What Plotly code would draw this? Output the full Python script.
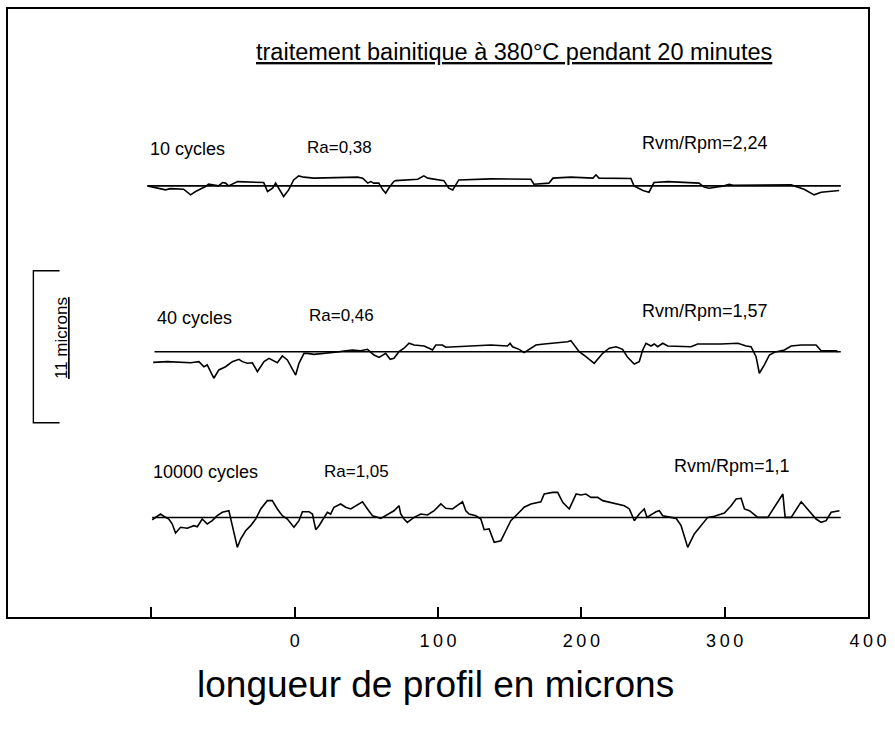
import plotly.graph_objects as go

# Roughness profiles (position along profile in microns, height in microns)
x_10 = [-102.7, -93.6, -90.1, -86.6, -77.5, -72.6, -69.1, -62.2, -60.1, -53.1,
        -50.3, -48.2, -46.1, -39.8, -21.6, -18.9, -15.4, -13.3, -11.2, -7.7,
        -4.2, -0.7, 2.8, 6.3, 13.3, 44.0, 47.5, 51.0, 53.1, 55.2,
        58.7, 61.5, 63.5, 65.6, 69.1, 70.5, 85.9, 90.1, 92.9, 104.1,
        107.5, 110.3, 112.4, 114.5, 136.9, 164.8, 166.9, 177.4, 180.2, 192.7,
        208.1, 210.2, 212.3, 234.6, 236.7, 243.0, 247.2, 250.7, 260.5, 282.1,
        285.6, 289.1, 299.6, 303.1, 305.9, 313.5, 346.4, 355.4, 362.4, 367.3,
        379.9]
h_10 = [0, -0.24, -0.29, -0.20, -0.24, -0.65, -0.41, -0.05, 0.12, 0,
        0.24, 0.20, 0, 0.31, 0.24, -0.41, -0.17, 0.20, -0.17, -0.77,
        -0.29, 0.43, 0.72, 0.63, 0.56, 0.63, 0.56, 0.20, 0.31, 0.20,
        0.20, -0.29, -0.53, -0.17, 0.31, 0.38, 0.48, 0.72, 0.56, 0.38,
        -0.17, -0.29, 0.07, 0.43, 0.51, 0.48, 0.12, 0.20, 0.56, 0.63,
        0.56, 0.80, 0.56, 0.53, 0, -0.34, -0.46, 0.24, 0.31, 0.20,
        -0.09, -0.17, 0, 0.12, 0.05, 0.05, 0.07, -0.24, -0.65, -0.46,
        -0.34]

x_40 = [-98.7, -88.9, -72.6, -66.8, -63.3, -61.0, -56.4, -52.9, -48.2, -43.5,
        -38.9, -36.5, -33.0, -29.5, -26.0, -21.4, -17.9, -15.6, -12.1, -8.6,
        -5.1, 0.7, 3.0, 6.5, 8.9, 13.5, 22.8, 29.8, 34.4, 40.2,
        46.1, 50.8, 55.4, 58.9, 63.5, 66.6, 69.3, 72.8, 76.3, 79.8,
        83.3, 90.3, 93.8, 96.2, 98.5, 103.1, 105.4, 115.9, 136.9, 148.5,
        150.3, 152.0, 156.6, 160.1, 163.6, 168.3, 174.1, 190.4, 192.7, 196.2,
        198.5, 203.2, 209.0, 214.9, 219.5, 224.2, 228.8, 232.3, 236.9, 240.4,
        242.8, 245.1, 248.6, 250.9, 253.3, 256.8, 260.3, 276.5, 281.2, 297.5,
        309.2, 315.0, 318.4, 321.9, 324.2, 327.7, 331.2, 334.7, 341.7, 346.4,
        353.4, 363.8, 367.3, 369.6, 377.8, 379.0]
h_40 = [-0.77, -0.72, -0.80, -0.72, -1.09, -0.96, -1.92, -1.32, -1.09, -0.72,
        -0.55, -0.72, -0.84, -0.80, -1.45, -0.72, -0.48, -0.60, -0.80, -0.31,
        -0.60, -1.69, -0.84, -0.12, -0.12, -0.19, -0.12, -0.02, 0.05, 0.12,
        0.07, 0.17, -0.24, -0.41, -0.12, -0.55, -0.48, 0, 0.25, 0.61,
        0.48, 0.41, 0.25, 0.12, 0.48, 0.48, 0.32, 0.36, 0.48, 0.41,
        0.61, 0.36, 0.17, -0.07, 0.17, 0.48, 0.56, 0.72, 0.80, 0.36,
        0, -0.36, -0.84, -0.12, 0.25, 0.36, 0.17, -0.41, -0.89, -0.72,
        0.12, 0.61, 0.41, 0.56, 0.36, 0.61, 0.41, 0.36, 0.56, 0.56,
        0.61, 0.41, 0.36, -0.36, -1.56, -0.96, -0.24, -0.04, 0.12, 0.41,
        0.48, 0.48, 0.07, 0.07, 0.07, 0]

x_10000 = [-99.4, -97.1, -93.6, -91.3, -87.8, -85.4, -83.1, -79.6, -74.9, -70.3,
           -67.9, -64.5, -61.0, -57.5, -54.0, -50.5, -45.9, -43.5, -40.0, -37.7,
           -34.2, -30.7, -27.2, -23.7, -19.1, -15.6, -12.1, -8.6, -5.1, -0.5,
           3.0, 5.4, 10.0, 12.4, 14.7, 17.0, 20.5, 22.8, 25.1, 27.4,
           32.1, 35.6, 39.1, 42.6, 47.3, 50.8, 54.3, 60.1, 64.8, 69.3,
           72.8, 74.0, 76.3, 78.6, 83.3, 88.0, 92.7, 97.3, 102.0, 105.4,
           110.1, 113.6, 117.1, 119.4, 121.7, 126.4, 129.9, 132.2, 135.7, 139.2,
           143.9, 147.3, 150.8, 155.5, 160.1, 164.8, 171.8, 174.1, 180.0, 183.5,
           187.0, 191.6, 194.0, 196.4, 199.7, 203.2, 206.7, 211.4, 214.9, 230.0,
           233.5, 237.0, 240.4, 243.9, 245.8, 248.6, 252.1, 254.4, 256.8, 262.6,
           266.1, 269.6, 274.2, 278.8, 284.7, 288.2, 292.8, 299.8, 304.5, 308.0,
           311.5, 313.8, 317.3, 323.1, 330.1, 340.6, 342.2, 346.4, 353.4, 358.0,
           363.8, 367.3, 370.8, 374.3, 380.1]
h_10000 = [-0.16, 0.01, 0.25, 0.09, -0.11, -0.47, -1.12, -0.71, -0.78, -0.59,
           -0.67, -0.11, -0.47, -0.23, 0.13, 0.38, 0.49, -0.59, -2.16, -1.56,
           -0.96, -0.59, -0.11, 0.62, 1.22, 1.22, 0.62, 0.13, -0.11, -0.71,
           -0.23, 0.42, 0.42, 0.25, -0.88, -0.59, 0.01, 0.38, 0.25, 0.74,
           0.98, 0.74, 0.62, 0.85, 1.14, 0.62, 0.13, -0.06, 0.25, 0.49,
           0.85, 0.25, -0.11, -0.35, 0.01, 0.25, 0.18, 0.49, 0.98, 0.67,
           0.62, 0.85, 1.14, 0.49, 0.25, 0.13, -0.11, -0.88, -0.83, -1.79,
           -1.68, -0.96, -0.23, 0.25, 0.74, 0.98, 1.14, 1.70, 1.82, 1.82,
           1.10, 0.62, 1.22, 1.70, 1.63, 1.70, 1.46, 1.46, 1.22, 0.85,
           0.62, -0.23, 0.25, 0.62, 0.01, 0.18, 0.42, 0.49, 0.13, 0.01,
           -0.06, -0.59, -2.16, -1.19, -0.47, 0.01, 0.09, 0.33, 0.85, 1.34,
           1.39, 0.62, 0.49, 0.01, 0.01, 1.70, 0.01, 0.01, 1.14, 0.62,
           -0.11, -0.35, -0.23, 0.38, 0.49]

cycle_labels = ["10 cycles", "40 cycles", "10000 cycles"]
ra_labels = ["Ra=0,38", "Ra=0,46", "Ra=1,05"]
ratio_labels = ["Rvm/Rpm=2,24", "Rvm/Rpm=1,57", "Rvm/Rpm=1,1"]

tick_values = [-100, 0, 100, 200, 300, 400]
tick_labels = ["", "0", "1\u20090\u20090", "2\u20090\u20090", "3\u20090\u20090", "4\u20090\u20090"]

scale_length = 11  # microns

# ---- layout constants ----
FONT = "Liberation Sans, Arial, Helvetica, sans-serif"
offsets = [24, 12, 0]                      # vertical stacking of the profiles
baseline_starts = [-102.7, -97.8, -99.4]
baseline_end = 381
profiles = [(x_10, h_10), (x_40, h_40), (x_10000, h_10000)]

fig = go.Figure()

for (xs, hs), off, x0 in zip(profiles, offsets, baseline_starts):
    fig.add_trace(go.Scatter(x=[x0, baseline_end], y=[off, off], mode="lines",
                             line=dict(color="black", width=1.6),
                             hoverinfo="skip", showlegend=False))
    fig.add_trace(go.Scatter(x=xs, y=[h + off for h in hs], mode="lines",
                             line=dict(color="black", width=1.6),
                             showlegend=False))

# vertical scale bar
bar_x_in, bar_x_out, bar_y0 = -164, -182.3, 6.86
fig.add_trace(go.Scatter(
    x=[bar_x_in, bar_x_out, bar_x_out, bar_x_in],
    y=[bar_y0 + scale_length, bar_y0 + scale_length, bar_y0, bar_y0],
    mode="lines", line=dict(color="black", width=1.4),
    hoverinfo="skip", showlegend=False))

annotations = []


def px_ann(text, px, py, size, xanchor="left", angle=0):
    annotations.append(dict(
        text=text, xref="paper", yref="paper",
        x=(px - 8) / 860, y=(617 - py) / 608,
        xanchor=xanchor, yanchor="middle", showarrow=False, textangle=angle,
        font=dict(family=FONT, size=size, color="black")))


px_ann("<u>traitement bainitique à 380°C pendant 20 minutes</u>", 514, 52, 23.5, "center")

label_rows = [149, 318, 472]
ra_x = [305, 307, 322]
ra_y = [147, 316, 471]
ratio_x = [640, 640, 672]
ratio_y = [143, 311, 466]
cycle_x = [148, 155, 151]
for i in range(3):
    px_ann(cycle_labels[i], cycle_x[i], label_rows[i], 18)
    px_ann(ra_labels[i], ra_x[i], ra_y[i], 17)
    px_ann(ratio_labels[i], ratio_x[i], ratio_y[i], 18)

px_ann("<u>11 microns</u>", 61, 338, 17, "center", -90)
px_ann("longueur de profil en microns", 435, 684, 37, "center")

fig.update_layout(
    width=895, height=736,
    margin=dict(l=8, r=27, t=9, b=119),
    paper_bgcolor="white", plot_bgcolor="white",
    font=dict(family=FONT, color="black"),
    annotations=annotations,
    xaxis=dict(range=[-200, 400], showgrid=False, zeroline=False,
               showline=True, mirror=True, linecolor="black", linewidth=2,
               ticks="inside", ticklen=10, tickwidth=1.5, tickcolor="black",
               tickvals=tick_values, ticktext=tick_labels,
               ticklabelstandoff=6,
               tickfont=dict(family=FONT, size=18, color="black")),
    yaxis=dict(range=[-7.2, 36.8], showgrid=False, zeroline=False,
               showline=True, mirror=True, linecolor="black", linewidth=2,
               ticks="", showticklabels=False),
)

fig.write_html("out.html")
